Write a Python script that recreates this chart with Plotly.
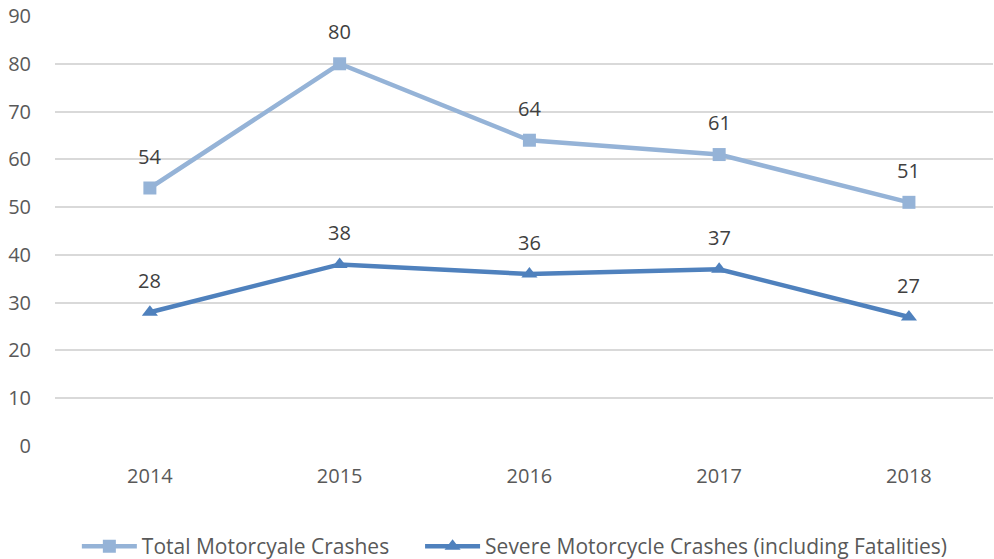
import plotly.graph_objects as go

years = ["2014", "2015", "2016", "2017", "2018"]
total_crashes = [54, 80, 64, 61, 51]
severe_crashes = [28, 38, 36, 37, 27]
y_ticks = [0, 10, 20, 30, 40, 50, 60, 70, 80, 90]

FONT = "Open Sans, Liberation Sans, sans-serif"
TXT = "#595959"
C1 = "#95b3d7"
C2 = "#4f81bd"

fig = go.Figure()
fig.add_trace(go.Scatter(
    x=years, y=total_crashes, mode="lines+markers", name="Total Motorcyale Crashes",
    line=dict(color=C1, width=4.5),
    marker=dict(symbol="square", size=13, color=C1),
    legend="legend",
))
fig.add_trace(go.Scatter(
    x=years, y=severe_crashes, mode="lines+markers",
    name="Severe Motorcycle Crashes (including Fatalities)",
    line=dict(color=C2, width=4.5),
    marker=dict(symbol="triangle-up", size=14, color=C2),
    legend="legend2",
))

annotations = []
for series in (total_crashes, severe_crashes):
    for i, yv in enumerate(series):
        annotations.append(dict(x=i, y=yv, xref="x", yref="y", text=str(yv),
                                showarrow=False, yshift=32,
                                font=dict(family=FONT, size=20, color="#404040")))

legend_common = dict(orientation="h", xanchor="left", y=-0.2814, yanchor="bottom",
                     font=dict(family=FONT, size=21, color=TXT), itemwidth=55,
                     bgcolor="rgba(0,0,0,0)")

fig.update_layout(
    width=994, height=559,
    margin=dict(l=55, r=1, t=16, b=113, autoexpand=False),
    paper_bgcolor="white", plot_bgcolor="white",
    font=dict(family=FONT, size=20, color=TXT),
    showlegend=True,
    annotations=annotations,
    legend=dict(x=0.0233, **legend_common),
    legend2=dict(x=0.3892, **legend_common),
    xaxis=dict(type="category", range=[-0.5, 4.443], showgrid=False, zeroline=False,
               showline=False, ticks="", ticklabelstandoff=16,
               tickfont=dict(family=FONT, size=20, color=TXT)),
    yaxis=dict(range=[0, 90], tickvals=y_ticks, showgrid=True, gridcolor="#d9d9d9",
               gridwidth=1.5, zeroline=False, showline=False, ticks="",
               ticklabeloverflow="allow",
               ticklabelstandoff=23, tickfont=dict(family=FONT, size=20, color=TXT)),
)

# remove the page's default 8px body margin so the figure fills the window
fig.write_html("out.html", config={"displayModeBar": False},
               post_script="document.body.style.margin='0';document.body.style.overflow='hidden';")
